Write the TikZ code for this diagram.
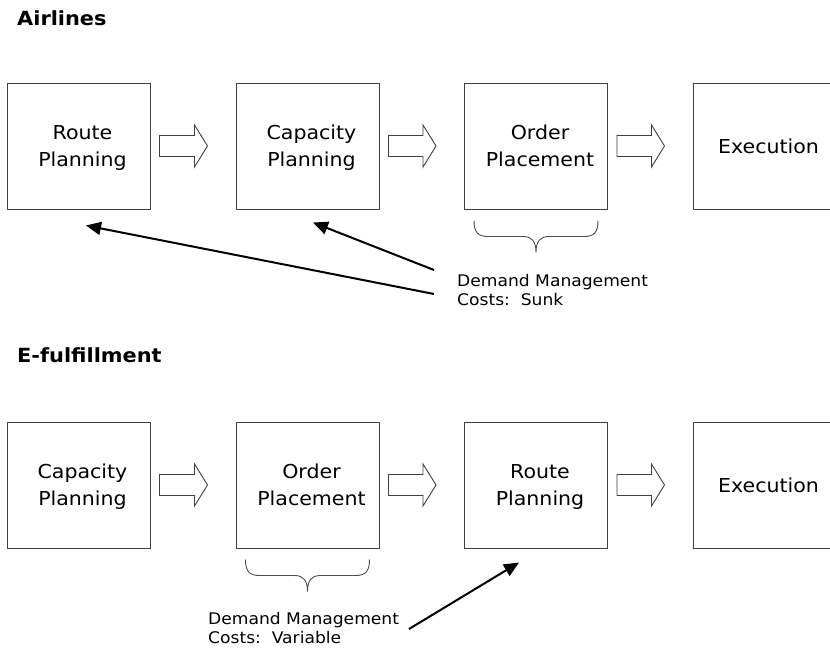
\documentclass[tikz,border=0pt]{standalone}
\usepackage{fontspec}
\setmainfont[FakeStretch=1.07]{DejaVu Sans}
\usetikzlibrary{calc,arrows.meta}
\newcommand\sh{\hspace*{8pt}}
\newcommand\blockarr[2]{%
  \draw[blk] ($(#1.east)+(9,-10.5)$) -- ($(#2.west)+(-41,-10.5)$) -- ($(#2.west)+(-41,-21)$)
    -- ($(#2.west)+(-28,0)$) -- ($(#2.west)+(-41,21)$) -- ($(#2.west)+(-41,10.5)$)
    -- ($(#1.east)+(9,10.5)$) -- cycle;}
\newcommand\bracebelow[1]{%
  \draw[brc, shift={(#1.south)}] (-62,11) .. controls (-62,23) and (-58,27) .. (-48,27)
    -- (-13,27) .. controls (-4,27) and (0,32) .. (0,43)
    .. controls (0,32) and (4,27) .. (13,27) -- (48,27)
    .. controls (58,27) and (62,23) .. (62,11);}
\begin{document}
\begin{tikzpicture}[x=1pt,y=-1pt,
  box/.style={draw=black!75, line width=1pt, minimum width=143pt, minimum height=126pt,
    inner sep=0pt, align=center, font=\fontsize{19.2}{27}\selectfont, text depth=0pt},
  blk/.style={draw=black!75, line width=0.9pt, fill=white, line join=miter},
  brc/.style={draw=black!70, line width=0.9pt},
  conn/.style={line width=2pt, -{Triangle[length=15pt,width=13pt]}},
  note/.style={font=\fontsize{16}{19.5}\selectfont, align=left, inner sep=0pt, anchor=north west},
  ttl/.style={font=\bfseries\fontsize{19.5}{23}\selectfont, inner sep=0pt, anchor=base west}]
\useasboundingbox (0,0) rectangle (830,653);
% titles
\node[ttl] (t-air) at (17,25) {Airlines};
\node[ttl] (t-ef) at (17,362) {E-fulfillment};
% top row
\node[box] (a1) at (78.5,146) {\sh Route\\\sh Planning};
\node[box] (a2) at (307.5,146) {\sh Capacity\\\sh Planning};
\node[box] (a3) at (536,146) {\sh Order\\\sh Placement};
\node[box] (a4) at (764.5,146) {\sh Execution};
\blockarr{a1}{a2}
\blockarr{a2}{a3}
\blockarr{a3}{a4}
\bracebelow{a3}
\node[note] (n1) at (457,274) {Demand Management\\Costs:\ \ Sunk};
\coordinate (s1) at (434,270);
\coordinate (s2) at (434,294);
\coordinate (p2) at ($(a2.south)+(5.5,13)$);
\coordinate (p1) at ($(a1.south)+(7.5,16)$);
\draw[conn] (s1) -- (p2);
\draw[conn] (s2) -- (p1);
% bottom row
\node[box] (e1) at (78.5,485) {\sh Capacity\\\sh Planning};
\node[box] (e2) at (307.5,485) {\sh Order\\\sh Placement};
\node[box] (e3) at (536,485) {\sh Route\\\sh Planning};
\node[box] (e4) at (764.5,485) {\sh Execution};
\blockarr{e1}{e2}
\blockarr{e2}{e3}
\blockarr{e3}{e4}
\bracebelow{e2}
\node[note] (n2) at (208,612) {Demand Management\\Costs:\ \ Variable};
\coordinate (s3) at (409,629);
\coordinate (p3) at ($(e3.south)+(-17,14)$);
\draw[conn] (s3) -- (p3);
\end{tikzpicture}
\end{document}
